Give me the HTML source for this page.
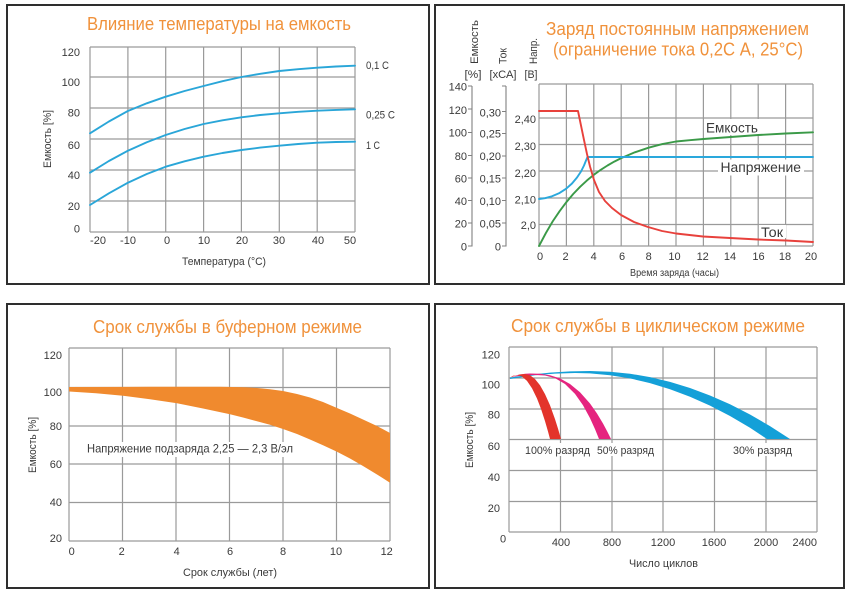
<!DOCTYPE html>
<html><head><meta charset="utf-8">
<style>
html,body{margin:0;padding:0;background:#fff;}
svg{display:block;}
text{font-family:"Liberation Sans","DejaVu Sans",sans-serif;}
.t{fill:#f0923c;font-size:18px;}
.k{fill:#3a3a3a;font-size:11px;}
.g{stroke:#9a9a9a;stroke-width:1.2;fill:none;}
.c{fill:none;stroke-width:1.9;stroke-linejoin:round;stroke-linecap:round;}
</style></head><body>
<svg width="852" height="595" viewBox="0 0 852 595" xmlns="http://www.w3.org/2000/svg">
<rect width="852" height="595" fill="#fff"/>
<!-- panel borders -->
<g fill="none" stroke="#2e2e2e" stroke-width="2">
<rect x="7" y="5" width="422" height="279"/>
<rect x="435" y="5" width="409" height="279"/>
<rect x="7" y="304" width="422" height="284"/>
<rect x="435" y="304" width="409" height="284"/>
</g>

<!-- ============ PANEL 1 ============ -->
<text class="t" x="219" y="30" text-anchor="middle" textLength="264" lengthAdjust="spacingAndGlyphs">Влияние температуры на емкость</text>
<g class="g">
<path d="M90,47H355M90,77H355M90,108H355M90,139H355M90,170H355M90,201H355M90,232H355"/>
<path d="M90,47V232M127.9,47V232M165.7,47V232M203.6,47V232M241.4,47V232M279.3,47V232M317.2,47V232M355,47V232"/>
</g>
<g class="k" text-anchor="end">
<text x="80" y="56">120</text><text x="80" y="86">100</text><text x="80" y="116.5">80</text>
<text x="80" y="149">60</text><text x="80" y="179">40</text><text x="80" y="210">20</text><text x="80" y="232.5">0</text>
</g>
<g class="k" text-anchor="middle">
<text x="98" y="244">-20</text><text x="128" y="244">-10</text><text x="167" y="244">0</text>
<text x="204" y="244">10</text><text x="242" y="244">20</text><text x="279" y="244">30</text>
<text x="318" y="244">40</text><text x="350" y="244">50</text>
<text x="224" y="265" textLength="84" lengthAdjust="spacingAndGlyphs">Температура (°C)</text>
<text transform="translate(51,139) rotate(-90)" textLength="58" lengthAdjust="spacingAndGlyphs">Емкость [%]</text>
</g>
<g class="k">
<text x="366" y="69" textLength="23" lengthAdjust="spacingAndGlyphs">0,1 C</text>
<text x="366" y="118.5" textLength="29" lengthAdjust="spacingAndGlyphs">0,25 C</text>
<text x="366" y="149" textLength="14" lengthAdjust="spacingAndGlyphs">1 C</text>
</g>
<g class="c" stroke="#2aa6d8">
<polyline points="90,133.3 108.9,121.5 127.9,111 146.8,103.3 165.7,96.7 184.6,91 203.6,86 222.5,81.2 241.4,77 260.3,73.8 279.3,71 298.2,69.2 317.2,67.7 336.1,66.5 355,65.7"/>
<polyline points="90,172.7 108.9,161 127.9,150.7 146.8,142.3 165.7,135 184.6,129 203.6,124 222.5,120.3 241.4,117.3 260.3,115 279.3,113.3 298.2,111.8 317.2,110.7 336.1,109.9 355,109.3"/>
<polyline points="90,205 108.9,193.3 127.9,182.7 146.8,174 165.7,166.7 184.6,161.3 203.6,156.7 222.5,153 241.4,150 260.3,147.6 279.3,145.7 298.2,144 317.2,142.7 336.1,142 355,141.7"/>
</g>

<!-- ============ PANEL 2 ============ -->
<text class="t" x="677.5" y="35" text-anchor="middle" textLength="263" lengthAdjust="spacingAndGlyphs">Заряд постоянным напряжением</text>
<text class="t" x="678" y="55.5" text-anchor="middle" textLength="250" lengthAdjust="spacingAndGlyphs">(ограничение тока 0,2С А, 25°С)</text>
<g class="k">
<text transform="translate(478,64) rotate(-90)" textLength="44" lengthAdjust="spacingAndGlyphs">Емкость</text>
<text transform="translate(506.5,64) rotate(-90)" textLength="16" lengthAdjust="spacingAndGlyphs">Ток</text>
<text transform="translate(537,64) rotate(-90)" textLength="26" lengthAdjust="spacingAndGlyphs">Напр.</text>
</g>
<g class="k" text-anchor="middle">
<text x="473" y="78" textLength="17" lengthAdjust="spacingAndGlyphs">[%]</text>
<text x="503" y="78" textLength="27" lengthAdjust="spacingAndGlyphs">[хСА]</text>
<text x="531" y="78" textLength="13" lengthAdjust="spacingAndGlyphs">[В]</text>
</g>
<g stroke="#808080" stroke-width="1.1" fill="none">
<path d="M472,86V246.5M468,86H472M468,109H472M468,132.5H472M468,155.5H472M468,178H472M468,200.5H472M468,223H472M468,246H472"/>
<path d="M506,86V246.5M502,86H506M502,111.5H506M502,133.5H506M502,156H506M502,178H506M502,200.5H506M502,223H506M502,246H506"/>
</g>
<g class="k" text-anchor="end">
<text x="467" y="90.5">140</text><text x="467" y="114">120</text><text x="467" y="136.5">100</text>
<text x="467" y="160">80</text><text x="467" y="182.5">60</text><text x="467" y="205">40</text>
<text x="467" y="227.5">20</text><text x="467" y="250.5">0</text>
<text x="501" y="116.5">0,30</text><text x="501" y="137.5">0,25</text><text x="501" y="160">0,20</text>
<text x="501" y="182.5">0,15</text><text x="501" y="205">0,10</text><text x="501" y="227.5">0,05</text>
<text x="501" y="250.5">0</text>
<text x="536" y="123">2,40</text><text x="536" y="150">2,30</text><text x="536" y="177">2,20</text>
<text x="536" y="203.5">2,10</text><text x="536" y="229">2,0</text>
</g>
<g class="g">
<path d="M539,84H813M539,118H813M539,144.5H813M539,171H813M539,198H813M539,224.5H813M539,246H813"/>
<path d="M539,84V246M566.4,84V246M593.8,84V246M621.2,84V246M648.6,84V246M676,84V246M703.4,84V246M730.8,84V246M758.2,84V246M785.6,84V246M813,84V246"/>
</g>
<g class="k" text-anchor="middle">
<text x="540" y="260">0</text><text x="565.5" y="260">2</text><text x="593.7" y="260">4</text>
<text x="622" y="260">6</text><text x="648.7" y="260">8</text><text x="674.5" y="260">10</text>
<text x="702.7" y="260">12</text><text x="730" y="260">14</text><text x="758.5" y="260">16</text>
<text x="785" y="260">18</text><text x="811" y="260">20</text>
<text x="674.5" y="276" style="font-size:10px" textLength="89" lengthAdjust="spacingAndGlyphs">Время заряда (часы)</text>
</g>
<g fill="#fff">
<rect x="704" y="119" width="57" height="16"/>
<rect x="718" y="159.5" width="86" height="16"/>
<rect x="759" y="225" width="27" height="13"/>
</g>
<g fill="#3a3a3a" style="font-size:14px">
<text x="706" y="132.5" textLength="52" lengthAdjust="spacingAndGlyphs">Емкость</text>
<text x="720.5" y="172" textLength="80.5" lengthAdjust="spacingAndGlyphs">Напряжение</text>
<text x="761" y="237" textLength="22" lengthAdjust="spacingAndGlyphs">Ток</text>
</g>
<polyline class="c" stroke="#3b9a48" points="539,246 545.9,233 552.7,221.4 559.6,211.2 566.4,202.1 573.2,194 580.1,186.8 587,180.4 593.8,174.8 600.6,169.9 607.5,165.5 614.3,161.6 621.2,158.1 634.9,152.3 648.6,147.7 662.3,144.1 676,141.5 689.7,140.2 703.4,139 730.8,137 758.2,135 785.6,133.5 813,132.3"/>
<polyline class="c" stroke="#2aa8dc" points="539,199 545,198.2 552,196.3 559,193.3 566,188.8 572,183.5 577,177.5 581,171.5 584,165.5 586,160.5 587.5,157 813,157"/>
<polyline class="c" stroke="#e8413c" points="539,111 578,111 581,125.5 584,140 587,154 590,166.5 594,180 599,192 605,201 612,208 621,215 634,222 648,227 662,231 676,233.5 703,236.5 730,238 758,239.5 786,240.5 813,242"/>

<!-- ============ PANEL 3 ============ -->
<text class="t" x="227.5" y="333" text-anchor="middle" textLength="269" lengthAdjust="spacingAndGlyphs">Срок службы в буферном режиме</text>
<g class="g">
<path d="M69,348H390M69,387.5H390M69,426H390M69,464H390M69,502.5H390M69,541H390"/>
<path d="M69,348V541M122.5,348V541M176,348V541M229.5,348V541M283,348V541M336.5,348V541M390,348V541"/>
</g>
<g class="k" text-anchor="end">
<text x="62" y="359">120</text><text x="62" y="396">100</text><text x="62" y="430">80</text>
<text x="62" y="468">60</text><text x="62" y="506">40</text><text x="62" y="542">20</text>
</g>
<g class="k" text-anchor="middle">
<text x="71.7" y="555">0</text><text x="121.7" y="555">2</text><text x="176.7" y="555">4</text>
<text x="230" y="555">6</text><text x="283" y="555">8</text><text x="336" y="555">10</text>
<text x="386.7" y="555">12</text>
<text x="230" y="576" textLength="94" lengthAdjust="spacingAndGlyphs">Срок службы (лет)</text>
<text transform="translate(36,445) rotate(-90)" textLength="56" lengthAdjust="spacingAndGlyphs">Емкость [%]</text>
</g>
<path fill="#f08a2e" d="M69,387 L150,386.8 L220,386.8 L245,387.2 L257,388 L270,389.3 L283,391 L297,394 L310,397.5 L323,402 L337,408 L350,413.5 L363,419.5 L377,426 L390,433 L390,482.7 L377,474.5 L363,466 L350,458.5 L337,451.7 L323,445.3 L310,439.5 L297,434 L283,429 L270,424.8 L256,421 L243,417.5 L230,414.3 L203,408.5 L177,403.3 L150,399.2 L123,395.7 L96,393.3 L69,391.5 Z"/>
<rect x="85" y="442" width="210" height="15" fill="#fff"/>
<text x="87" y="452.5" fill="#3a3a3a" style="font-size:12px" textLength="206" lengthAdjust="spacingAndGlyphs">Напряжение подзаряда 2,25 — 2,3 В/эл</text>

<!-- ============ PANEL 4 ============ -->
<text class="t" x="658" y="332" text-anchor="middle" textLength="294" lengthAdjust="spacingAndGlyphs">Срок службы в циклическом режиме</text>
<g class="g">
<path d="M509,347H817M509,378H817M509,409H817M509,439.5H817M509,470.5H817M509,501.5H817M509,532H817"/>
<path d="M509,347V532M560.5,347V532M612,347V532M663,347V532M714.5,347V532M766,347V532M817,347V532"/>
</g>
<g class="k" text-anchor="end">
<text x="500" y="358.5">120</text><text x="500" y="388.5">100</text><text x="500" y="418.5">80</text>
<text x="500" y="450">60</text><text x="500" y="481">40</text><text x="500" y="512">20</text>
<text x="817" y="546">2400</text>
</g>
<g class="k" text-anchor="middle">
<text x="503" y="542.5">0</text>
<text x="561" y="546">400</text><text x="612" y="546">800</text><text x="663" y="546">1200</text>
<text x="714" y="546">1600</text><text x="766" y="546">2000</text>
<text x="663.5" y="567" textLength="69" lengthAdjust="spacingAndGlyphs">Число циклов</text>
<text transform="translate(473,440) rotate(-90)" textLength="56" lengthAdjust="spacingAndGlyphs">Емкость [%]</text>
</g>
<!-- blue 30% -->
<path fill="#14a0d8" d="M510,377.5 L530,374.7 L550,372.6 L570,371.4 L590,371 L610,371.7 L630,373.7 L650,377.1 L670,381.9 L690,388 L710,395.5 L730,404.3 L750,414.5 L770,426.1 L790,439 L767,439 L750,427.8 L730,416 L710,405.6 L690,396.7 L670,389.2 L650,383.1 L630,378.4 L610,375.2 L590,373.4 L575,373 L555,373.6 L535,375.3 L510,379 Z"/>
<!-- pink 50% -->
<path fill="#e5247f" d="M510,377.5 L515,376 L520,374.6 L525,373.8 L530,373.5 L540,373.8 L550,375.2 L560,378.4 L570,384 L580,392.2 L590,403.5 L597,413.5 L603,423.5 L607,431 L611,439 L599,439 L595,429.1 L590,418.1 L583,405.3 L575,393.9 L565,384 L555,378.1 L545,375.5 L535,375 L525,375.2 L515,376.5 Z"/>
<!-- red 100% -->
<path fill="#e3342b" d="M510,377.5 L515,375.6 L520,374.4 L525,374 L530,375.3 L535,379 L540,385.3 L545,394.1 L550,405.3 L555,419.1 L558,428.6 L561,439 L550,439 L548,431.5 L545,421.1 L541,408.9 L537,398.5 L532,388.2 L527,380.9 L522,376.5 L517,375 L513,375.8 Z"/>
<g fill="#fff">
<rect x="523" y="443" width="69" height="13"/>
<rect x="595" y="443" width="61" height="13"/>
<rect x="731" y="443" width="63" height="13"/>
</g>
<g class="k">
<text x="525" y="454" textLength="65" lengthAdjust="spacingAndGlyphs">100% разряд</text>
<text x="597" y="454" textLength="57" lengthAdjust="spacingAndGlyphs">50% разряд</text>
<text x="733" y="454" textLength="59" lengthAdjust="spacingAndGlyphs">30% разряд</text>
</g>
</svg>
</body></html>
